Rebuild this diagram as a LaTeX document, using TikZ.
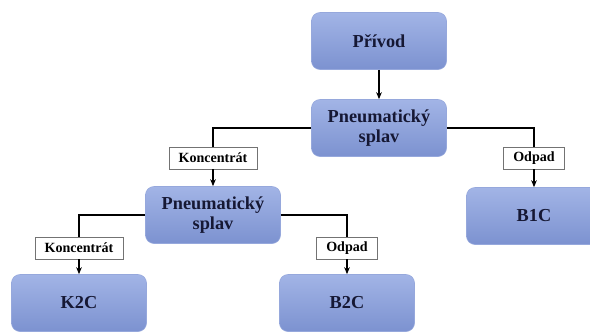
\documentclass[tikz,border=0pt]{standalone}
\usepackage{fontspec}
\setmainfont{Liberation Serif}
\usetikzlibrary{positioning, arrows.meta}
\definecolor{SplavTop}{RGB}{162,180,230}
\definecolor{SplavBot}{RGB}{124,146,208}
\definecolor{SplavEdge}{RGB}{150,168,220}
\definecolor{SplavInk}{RGB}{22,24,52}

\begin{document}
\begin{tikzpicture}[
      stage/.style={rectangle, rounded corners=6pt, top color=SplavTop,
                    bottom color=SplavBot, draw=SplavEdge,
                    minimum width=3.375cm, minimum height=1.425cm,
                    text=SplavInk, align=center,
                    font=\fontsize{13}{14.5}\selectfont\bfseries},
      stream/.style={rectangle, draw=black!55, fill=white, inner xsep=0.24cm,
                     inner ysep=0pt, minimum height=0.55cm,
                     font=\fontsize{10}{12}\selectfont\bfseries},
      flow/.style={black, line width=0.8pt},
      feed/.style={flow, -{Stealth[length=5pt, width=4pt]}}
    ]
    \useasboundingbox (0,0) rectangle (14.75,8.275);
    \clip (0,0) rectangle (14.75,8.275);

    %--- Stages ---
    \node[stage] (privod) at (9.475, 7.25) {Přívod};
    \node[stage] (splav1) at (9.475, 5.075) {Pneumatický\\splav};
    \node[stage] (splav2) at (5.325, 2.9) {Pneumatický\\splav};
    \node[stage] (b1c) at (13.35, 2.875) {B1C};
    \node[stage] (k2c) at (1.975, 0.7) {K2C};
    \node[stage] (b2c) at (8.675, 0.7) {B2C};

    %--- Product labels ---
    \node[stream] (konc1) at (5.325, 4.325) {Koncentrát};
    \node[stream] (odpad1) at (13.35, 4.325) {Odpad};
    \node[stream] (konc2) at (1.975, 2.075) {Koncentrát};
    \node[stream] (odpad2) at (8.675, 2.075) {Odpad};

    %--- Connections ---
    \draw[feed] (privod) -- (splav1);
    \draw[flow] (splav1.west) -| (konc1.north);
    \draw[flow] (splav1.east) -| (odpad1.north);
    \draw[feed] (konc1) -- (splav2);
    \draw[feed] (odpad1) -- (b1c);
    \draw[flow] (splav2.west) -| (konc2.north);
    \draw[flow] (splav2.east) -| (odpad2.north);
    \draw[feed] (konc2) -- (k2c);
    \draw[feed] (odpad2) -- (b2c);
  \end{tikzpicture}
\end{document}
